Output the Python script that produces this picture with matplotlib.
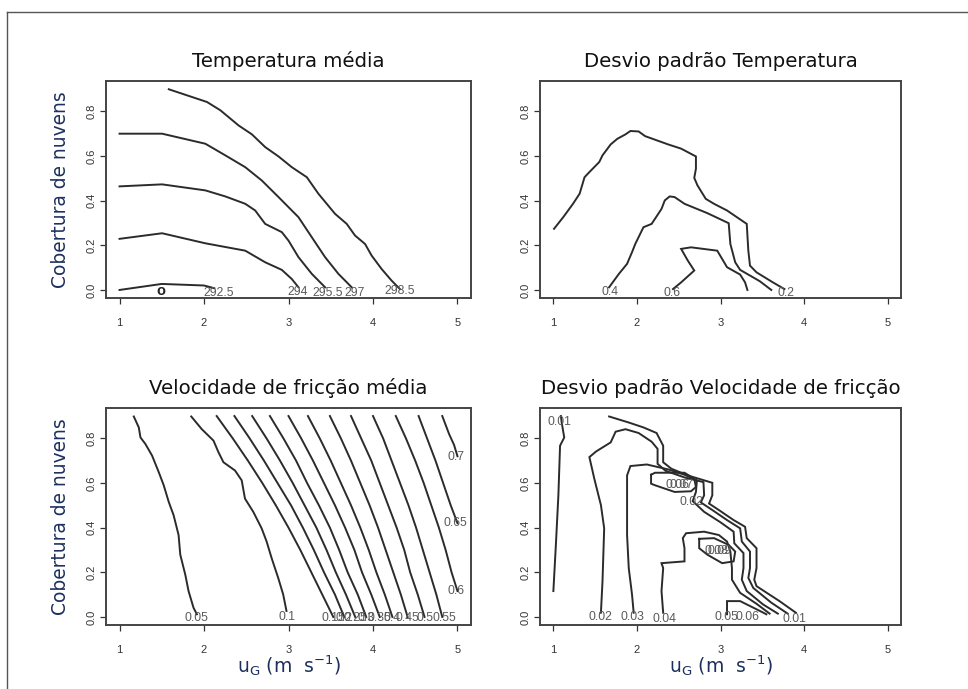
import matplotlib.pyplot as plt
from matplotlib.lines import Line2D

# ---- Temperatura média : contour paths (level, x, y) and label spots ----
temp_lev = [292.5, 294, 295.5, 297, 298.5]
temp_x = [
    [1.0, 1.5, 2.0, 2.12],
    [1.0, 1.504, 2.016, 2.488, 2.724, 2.921, 3.039, 3.118],
    [1.0, 1.504, 2.016, 2.252, 2.488, 2.606, 2.724, 2.921, 3.0, 3.118, 3.276, 3.433],
    [1.0, 1.504, 2.016, 2.252, 2.488, 2.685, 2.882, 3.118, 3.276, 3.433, 3.591, 3.748],
    [1.583, 2.035, 2.193, 2.409, 2.567, 2.724, 2.882, 3.039, 3.217, 3.354, 3.551,
     3.689, 3.787, 3.906, 3.984, 4.102, 4.220, 4.319],
]
temp_y = [
    [0.0, 0.027, 0.02, 0.008],
    [0.229, 0.254, 0.209, 0.176, 0.124, 0.090, 0.049, 0.012],
    [0.464, 0.473, 0.446, 0.419, 0.386, 0.356, 0.296, 0.259, 0.221, 0.147, 0.072, 0.012],
    [0.700, 0.700, 0.655, 0.603, 0.550, 0.490, 0.416, 0.326, 0.236, 0.147, 0.072, 0.012],
    [0.899, 0.842, 0.805, 0.737, 0.697, 0.640, 0.598, 0.550, 0.505, 0.431, 0.341,
     0.296, 0.244, 0.206, 0.154, 0.094, 0.042, 0.004],
]
temp_lab = ["o", "292.5", "294", "295.5", "297", "298.5"]
temp_lab_x = [1.484, 2.17, 3.105, 3.46, 3.78, 4.32]
temp_lab_y = [-0.006, -0.012, -0.011, -0.015, -0.015, -0.006]

# ---- Desvio padrão Temperatura ----
sdt_lev = [0.2, 0.4, 0.6]
sdt_x = [
    [1.008, 1.118, 1.235, 1.314, 1.373, 1.431, 1.549, 1.588, 1.686, 1.765, 1.863, 1.922,
     2.020, 2.098, 2.373, 2.529, 2.706, 2.706, 2.686, 2.725, 2.824, 2.922, 3.078, 3.314,
     3.333, 3.353, 3.431, 3.627, 3.765],
    [1.667, 1.784, 1.882, 1.941, 1.980, 2.078, 2.176, 2.294, 2.333, 2.392, 2.451, 2.569,
     2.843, 3.098, 3.118, 3.176, 3.235, 3.471, 3.608],
    [2.431, 2.529, 2.686, 2.608, 2.529, 2.647, 2.961, 3.078, 3.235, 3.294, 3.322],
]
sdt_y = [
    [0.274, 0.326, 0.386, 0.431, 0.505, 0.528, 0.573, 0.603, 0.652, 0.677, 0.697, 0.712,
     0.710, 0.689, 0.652, 0.633, 0.598, 0.543, 0.502, 0.468, 0.408, 0.386, 0.356, 0.296,
     0.176, 0.109, 0.079, 0.034, 0.004],
    [0.012, 0.072, 0.117, 0.169, 0.206, 0.281, 0.296, 0.363, 0.401, 0.419, 0.416, 0.386,
     0.344, 0.299, 0.206, 0.124, 0.090, 0.039, 0.0],
    [0.004, 0.034, 0.087, 0.132, 0.184, 0.191, 0.176, 0.102, 0.069, 0.034, 0.0],
]
sdt_lab = ["0.4", "0.6", "0.2"]
sdt_lab_x = [1.675, 2.42, 3.784]
sdt_lab_y = [-0.01, -0.015, -0.015]

# ---- Velocidade de fricção média ----
ust_lev = [0.05, 0.1, 0.15, 0.2, 0.25, 0.3, 0.35, 0.4, 0.45, 0.5, 0.55, 0.6, 0.65, 0.7]
ust_x = [
    [1.169, 1.228, 1.248, 1.306, 1.385, 1.464, 1.523, 1.582, 1.640, 1.699, 1.719, 1.778,
     1.817, 1.876, 1.916],
    [1.849, 1.974, 2.112, 2.171, 2.230, 2.367, 2.446, 2.485, 2.583, 2.682, 2.741, 2.800,
     2.878, 2.937, 2.976],
    [2.15, 2.34, 2.52, 2.69, 2.85, 3.00, 3.14, 3.27, 3.40, 3.53],
    [2.36, 2.54, 2.71, 2.87, 3.03, 3.17, 3.30, 3.42, 3.55, 3.66],
    [2.57, 2.74, 2.90, 3.05, 3.19, 3.33, 3.45, 3.56, 3.68, 3.79],
    [2.78, 2.94, 3.09, 3.22, 3.36, 3.49, 3.60, 3.70, 3.82, 3.92],
    [3.00, 3.15, 3.29, 3.42, 3.55, 3.67, 3.78, 3.87, 3.98, 4.08],
    [3.23, 3.37, 3.50, 3.62, 3.74, 3.85, 3.95, 4.04, 4.14, 4.23],
    [3.49, 3.62, 3.74, 3.85, 3.96, 4.06, 4.15, 4.24, 4.33, 4.41],
    [3.74, 3.86, 3.98, 4.08, 4.18, 4.28, 4.37, 4.44, 4.53, 4.61],
    [4.00, 4.12, 4.22, 4.32, 4.42, 4.51, 4.59, 4.67, 4.75, 4.82],
    [4.27, 4.39, 4.50, 4.60, 4.69, 4.78, 4.86, 4.93, 5.0],
    [4.54, 4.64, 4.74, 4.83, 4.92, 5.0],
    [4.82, 4.90, 4.96, 5.0],
]
ust_y = [
    [0.898, 0.849, 0.804, 0.775, 0.723, 0.649, 0.590, 0.516, 0.456, 0.367, 0.279, 0.190,
     0.116, 0.041, 0.012],
    [0.898, 0.841, 0.790, 0.738, 0.693, 0.656, 0.612, 0.530, 0.471, 0.397, 0.338, 0.264,
     0.175, 0.101, 0.027],
    [0.9, 0.8, 0.7, 0.6, 0.5, 0.4, 0.3, 0.2, 0.1, 0.0],
    [0.9, 0.8, 0.7, 0.6, 0.5, 0.4, 0.3, 0.2, 0.1, 0.0],
    [0.9, 0.8, 0.7, 0.6, 0.5, 0.4, 0.3, 0.2, 0.1, 0.0],
    [0.9, 0.8, 0.7, 0.6, 0.5, 0.4, 0.3, 0.2, 0.1, 0.0],
    [0.9, 0.8, 0.7, 0.6, 0.5, 0.4, 0.3, 0.2, 0.1, 0.0],
    [0.9, 0.8, 0.7, 0.6, 0.5, 0.4, 0.3, 0.2, 0.1, 0.0],
    [0.9, 0.8, 0.7, 0.6, 0.5, 0.4, 0.3, 0.2, 0.1, 0.0],
    [0.9, 0.8, 0.7, 0.6, 0.5, 0.4, 0.3, 0.2, 0.1, 0.0],
    [0.9, 0.8, 0.7, 0.6, 0.5, 0.4, 0.3, 0.2, 0.1, 0.0],
    [0.9, 0.8, 0.7, 0.6, 0.5, 0.4, 0.3, 0.2, 0.116],
    [0.9, 0.8, 0.7, 0.6, 0.5, 0.42],
    [0.9, 0.82, 0.77, 0.72],
]
ust_lab = ["0.05", "0.1", "0.15", "0.2", "0.25", "0.3", "0.35", "0.4", "0.45", "0.5",
           "0.55", "0.6", "0.65", "0.7"]
ust_lab_x = [1.916, 2.988, 3.53, 3.66, 3.79, 3.92, 4.08, 4.23, 4.41, 4.61, 4.84,
             4.98, 4.98, 4.98]
ust_lab_y = [-0.006, 0.0, -0.005, -0.005, -0.005, -0.005, -0.005, -0.005, -0.005,
             -0.005, -0.005, 0.116, 0.42, 0.716]

# ---- Desvio padrão Velocidade de fricção ----
sdu_lev = [0.01, 0.01, 0.02, 0.03, 0.04, 0.05, 0.05, 0.06]
sdu_x = [
    [1.09, 1.10, 1.13, 1.08, 1.06, 1.03, 1.0],
    [1.667, 1.902, 2.078, 2.235, 2.314, 2.314, 2.412, 2.608, 2.902, 2.902, 2.863, 2.980,
     3.157, 3.294, 3.314, 3.431, 3.431, 3.404, 3.431, 3.706, 3.902],
    [1.569, 1.588, 1.608, 1.569, 1.490, 1.431, 1.510, 1.686, 1.745, 1.863, 2.020, 2.176,
     2.247, 2.247, 2.341, 2.569, 2.796, 2.804, 2.765, 2.902, 3.078, 3.235, 3.255, 3.353,
     3.353, 3.333, 3.392, 3.608, 3.804],
    [1.961, 1.941, 1.902, 1.882, 1.882, 1.922, 2.118, 2.373, 2.569, 2.718, 2.706, 2.667,
     2.804, 3.0, 3.157, 3.165, 3.275, 3.275, 3.255, 3.314, 3.510, 3.686],
    [2.314, 2.294, 2.314, 2.294, 2.569, 2.569, 2.549, 2.588, 2.804, 2.980, 3.078, 3.118,
     3.137, 3.137, 3.235, 3.431, 3.588],
    [3.078, 3.078, 3.235, 3.471, 3.549],
    [2.169, 2.216, 2.569, 2.686, 2.706, 2.647, 2.451, 2.216, 2.169, 2.169],
    [2.745, 2.922, 3.098, 3.176, 3.157, 3.020, 2.843, 2.745, 2.745],
]
sdu_y = [
    [0.9, 0.87, 0.804, 0.767, 0.545, 0.323, 0.116],
    [0.898, 0.871, 0.849, 0.824, 0.767, 0.693, 0.664, 0.634, 0.601, 0.545, 0.508, 0.479,
     0.434, 0.404, 0.353, 0.308, 0.219, 0.167, 0.138, 0.071, 0.019],
    [0.019, 0.160, 0.397, 0.501, 0.619, 0.716, 0.741, 0.782, 0.830, 0.841, 0.824, 0.785,
     0.753, 0.686, 0.655, 0.625, 0.604, 0.545, 0.513, 0.479, 0.434, 0.397, 0.338, 0.293,
     0.219, 0.175, 0.130, 0.064, 0.015],
    [0.019, 0.101, 0.219, 0.367, 0.634, 0.676, 0.683, 0.661, 0.637, 0.612, 0.560, 0.519,
     0.471, 0.424, 0.382, 0.330, 0.286, 0.219, 0.167, 0.116, 0.056, 0.015],
    [0.019, 0.116, 0.219, 0.241, 0.249, 0.308, 0.353, 0.375, 0.382, 0.367, 0.338, 0.293,
     0.219, 0.167, 0.108, 0.059, 0.015],
    [0.012, 0.071, 0.071, 0.027, 0.012],
    [0.637, 0.646, 0.646, 0.619, 0.582, 0.563, 0.560, 0.590, 0.597, 0.637],
    [0.350, 0.353, 0.323, 0.293, 0.249, 0.241, 0.279, 0.308, 0.350],
]
sdu_lab = ["0.01", "0.02", "0.03", "0.04", "0.05", "0.06", "0.01",
           "0.06", "0.07", "0.02", "0.08", "0.09"]
sdu_lab_x = [1.071, 1.569, 1.949, 2.333, 3.071, 3.322, 3.882,
             2.49, 2.53, 2.647, 2.95, 2.99]
sdu_lab_y = [0.874, 0.0, 0.0, -0.007, 0.0, 0.0, -0.007,
             0.593, 0.593, 0.516, 0.296, 0.296]

x_ticks = [1, 2, 3, 4, 5]
y_ticks = [0.0, 0.2, 0.4, 0.6, 0.8]
y_ticklabels = ["0.0", "0.2", "0.4", "0.6", "0.8"]

line_col = "#2b2b2b"
lab_col = "#5a5a5a"
axis_col = "#333333"
name_col = "#1c2f5e"

fig = plt.figure(figsize=(9.68, 6.89), dpi=100)

# page frame lines
fig.add_artist(Line2D([7 / 968, 1], [1 - 12 / 689, 1 - 12 / 689], color="#555555", lw=1.0))
fig.add_artist(Line2D([7 / 968, 7 / 968], [1 - 12 / 689, 0], color="#555555", lw=1.0))

boxes = [
    [106 / 968, 1 - 298 / 689, 365 / 968, 217 / 689],
    [540 / 968, 1 - 298 / 689, 361 / 968, 217 / 689],
    [106 / 968, 1 - 625 / 689, 365 / 968, 217 / 689],
    [540 / 968, 1 - 625 / 689, 361 / 968, 217 / 689],
]
titles = ["Temperatura média", "Desvio padrão Temperatura",
          "Velocidade de fricção média", "Desvio padrão Velocidade de fricção"]
panels = [
    (temp_lev, temp_x, temp_y, temp_lab, temp_lab_x, temp_lab_y),
    (sdt_lev, sdt_x, sdt_y, sdt_lab, sdt_lab_x, sdt_lab_y),
    (ust_lev, ust_x, ust_y, ust_lab, ust_lab_x, ust_lab_y),
    (sdu_lev, sdu_x, sdu_y, sdu_lab, sdu_lab_x, sdu_lab_y),
]

for i, (box, title, pdata) in enumerate(zip(boxes, titles, panels)):
    lev, px, py, lab, lx, ly = pdata
    ax = fig.add_axes(box)
    for xs, ys in zip(px, py):
        ax.plot(xs, ys, color=line_col, lw=1.4, solid_joinstyle="miter")
    for t, x, y in zip(lab, lx, ly):
        if t == "o":
            ax.text(x, y, t, ha="center", va="center", fontsize=10.5,
                    family="Liberation Sans", color="#222222", fontweight="bold")
        else:
            ax.text(x, y, t, ha="center", va="center", fontsize=8.8,
                    family="Liberation Sans", color=lab_col, clip_on=False)
    ax.set_xlim(0.84, 5.16)
    ax.set_ylim(-0.036, 0.936)
    ax.set_xticks(x_ticks)
    ax.set_xticklabels([str(v) for v in x_ticks], family="Liberation Sans")
    ax.set_yticks(y_ticks)
    ax.set_yticklabels(y_ticklabels, rotation=90, va="center", family="Liberation Sans")
    ax.tick_params(direction="out", length=4.5, width=0.9, colors=axis_col,
                   labelsize=8, labelcolor="#333333")
    ax.tick_params(axis="x", pad=10)
    ax.tick_params(axis="y", pad=2.5)
    for s in ax.spines.values():
        s.set_color("#444444")
        s.set_linewidth(1.4)
    ax.set_title(title, fontsize=14.2, pad=10, color="#111111")
    if i % 2 == 0:
        ax.set_ylabel("Cobertura de nuvens", fontsize=13.4, color=name_col)
        ax.yaxis.set_label_coords(-0.098, 0.5)
    if i >= 2:
        ax.set_xlabel(r"u$_\mathregular{G}$ (m  s$^\mathregular{-1}$)", fontsize=13.5,
                      color=name_col)
        ax.xaxis.set_label_coords(0.5, -0.13)

fig.savefig("out.png", dpi=100)
